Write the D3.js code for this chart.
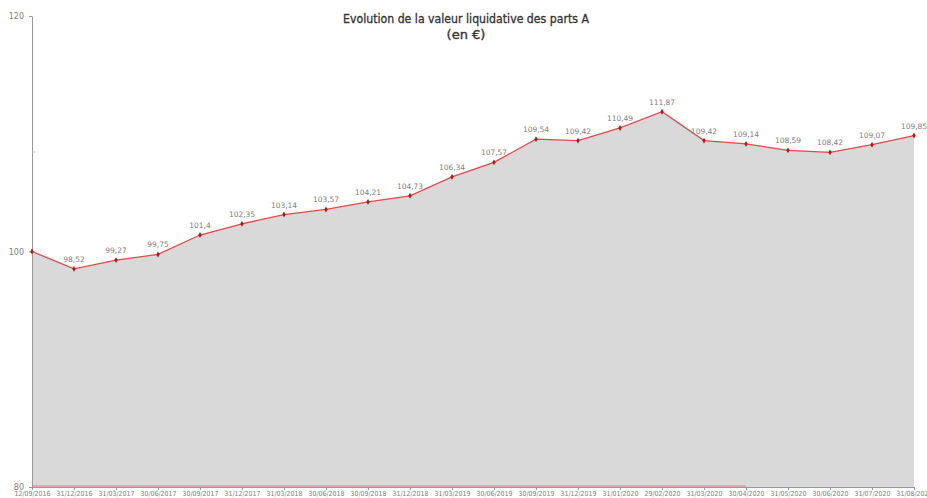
<!DOCTYPE html>
<html>
<head>
<meta charset="utf-8">
<script src="https://cdn.jsdelivr.net/npm/d3@7"></script>
<style>
body { margin: 0; background: #fff; }
text { font-family: "DejaVu Sans", sans-serif; }
</style>
</head>
<body>
<script>
var dates = ["12/09/2016", "31/12/2016", "31/03/2017", "30/06/2017", "30/09/2017", "31/12/2017",
             "31/03/2018", "30/06/2018", "30/09/2018", "31/12/2018", "31/03/2019", "30/06/2019",
             "30/09/2019", "31/12/2019", "31/01/2020", "29/02/2020", "31/03/2020", "30/04/2020",
             "31/05/2020", "30/06/2020", "31/07/2020", "31/08/2020"];
var values = [100, 98.52, 99.27, 99.75, 101.4, 102.35, 103.14, 103.57, 104.21, 104.73, 106.34, 107.57,
              109.54, 109.42, 110.49, 111.87, 109.42, 109.14, 108.59, 108.42, 109.07, 109.85];
var yTicks = [80, 100, 120];

var data = dates.map(function(d, i) { return {date: d, value: values[i]}; });

var svg = d3.select("body")
            .append("svg")
            .attr("width", 927)
            .attr("height", 498);

var x = d3.scalePoint().domain(dates).range([32, 914]);
var y = d3.scaleLinear().domain([80, 120]).range([487, 16]);

// area
var area = d3.area()
    .x(function(d) { return x(d.date); })
    .y0(y(80))
    .y1(function(d) { return y(d.value); });

svg.append("path")
    .datum(data)
    .attr("d", area)
    .attr("fill", "#d9d9d9");

// faint red baseline seen in the original
svg.append("line")
    .attr("x1", x(dates[0])).attr("x2", x(dates[17]))
    .attr("y1", y(80) - 1).attr("y2", y(80) - 1)
    .attr("stroke", "#d98080")
    .attr("stroke-width", 1);

// axes
var xAxis = d3.axisBottom(x).tickSize(3).tickSizeOuter(0);
var gx = svg.append("g")
    .attr("transform", "translate(0," + y(80) + ")")
    .call(xAxis);
gx.select(".domain").attr("stroke", "#999");
gx.selectAll(".tick line").attr("stroke", "#999");
gx.selectAll(".tick text")
    .attr("fill", "#808080")
    .attr("font-size", "7px")
    .attr("y", 4)
    .attr("dy", "0.71em")
    .attr("textLength", 36)
    .attr("lengthAdjust", "spacingAndGlyphs");

var yAxis = d3.axisLeft(y).tickValues(yTicks).tickSize(3).tickSizeOuter(0);
var gy = svg.append("g")
    .attr("transform", "translate(32,0)")
    .call(yAxis);
gy.select(".domain").attr("stroke", "#999");
gy.selectAll(".tick line").attr("stroke", "#999");
gy.selectAll(".tick text")
    .attr("fill", "#808080")
    .attr("font-size", "8px")
    .attr("x", -8);

svg.append("line")
    .attr("x1", 32).attr("x2", 35)
    .attr("y1", 152).attr("y2", 152)
    .attr("stroke", "#bbb");

// line
var line = d3.line()
    .x(function(d) { return x(d.date); })
    .y(function(d) { return y(d.value); });

svg.append("path")
    .datum(data)
    .attr("d", line)
    .attr("fill", "none")
    .attr("stroke", "#e8474a")
    .attr("stroke-width", 1.3);

svg.selectAll(".pt")
    .data(data)
    .enter()
    .append("path")
    .attr("class", "pt")
    .attr("d", d3.symbol().type(d3.symbolDiamond).size(10))
    .attr("transform", function(d) { return "translate(" + x(d.date) + "," + y(d.value) + ")"; })
    .attr("fill", "#b01818");

// value labels
svg.selectAll(".lbl")
    .data(data.slice(1))
    .enter()
    .append("text")
    .attr("class", "lbl")
    .attr("x", function(d) { return x(d.date); })
    .attr("y", function(d) { return y(d.value) - 7; })
    .attr("text-anchor", "middle")
    .attr("fill", "#808080")
    .attr("font-size", "7.5px")
    .text(function(d) { return String(d.value).replace(".", ","); });

// title
svg.append("text")
    .attr("x", 466).attr("y", 23)
    .attr("text-anchor", "middle")
    .attr("fill", "#333")
    .attr("stroke", "#333")
    .attr("stroke-width", 0.35)
    .attr("font-size", "13px")
    .attr("textLength", 246)
    .attr("lengthAdjust", "spacingAndGlyphs")
    .text("Evolution de la valeur liquidative des parts A");
svg.append("text")
    .attr("x", 466).attr("y", 39)
    .attr("text-anchor", "middle")
    .attr("fill", "#333")
    .attr("stroke", "#333")
    .attr("stroke-width", 0.35)
    .attr("font-size", "13px")
    .text("(en €)");
</script>
</body>
</html>
